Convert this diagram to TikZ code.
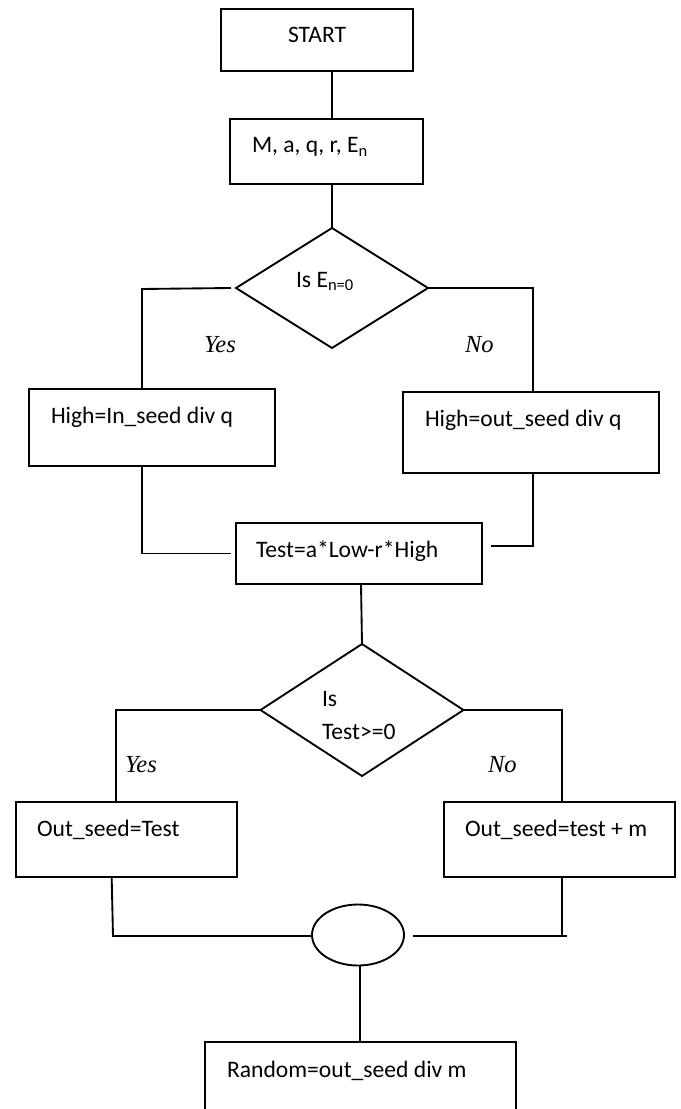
\documentclass[tikz,border=0pt]{standalone}
\usepackage{fontspec}
\setmainfont{Carlito}
\newfontfamily\labelfont{Liberation Serif}
\usetikzlibrary{shapes.geometric}

\tikzset{
  procbox/.style 2 args={draw, rectangle, inner sep=0pt, outer sep=0pt,
    minimum width=#1*0.75pt, minimum height=#2*0.75pt},
  decision/.style 2 args={draw, diamond, inner sep=0pt, outer sep=0pt,
    minimum width=#1*0.75pt, minimum height=#2*0.75pt},
  joint/.style 2 args={draw, ellipse, inner sep=0pt, outer sep=0pt,
    minimum width=#1*0.75pt, minimum height=#2*0.75pt},
  txt/.style={anchor=base west, inner sep=0pt, outer sep=0pt,
    font=\fontsize{17.7}{21}\selectfont},
  branch/.style={anchor=base west, inner sep=0pt, outer sep=0pt,
    font=\labelfont\itshape\fontsize{18.4}{22}\selectfont},
  link/.style={draw}
}

\begin{document}
\begin{tikzpicture}[x=0.75pt, y=-0.75pt, line width=1.4pt]
  \useasboundingbox (0,0) rectangle (681,1109);
  \clip (0,0) rectangle (681,1109);

  % process boxes
  \node[procbox={192}{62}]  (start) at (317,40)     {};
  \node[procbox={193}{65}]  (inp)   at (326.5,151.5) {};
  \node[procbox={246}{77}]  (hin)   at (152,427.5)  {};
  \node[procbox={256}{81}]  (hout)  at (531,432.5)  {};
  \node[procbox={246}{61}]  (test)  at (359,553.5)  {};
  \node[procbox={221}{75}]  (oyes)  at (126.5,839.5) {};
  \node[procbox={231}{75}]  (ono)   at (559.5,839.5) {};
  \node[procbox={311}{83}]  (rand)  at (360.5,1083.5) {};

  % decisions and the joining ellipse
  \node[decision={192}{120}] (dia1) at (332,288) {};
  \node[decision={203}{132}] (dia2) at (362,710) {};
  \node[joint={92}{61}]      (join) at (358,935) {};

  % texts
  \node[txt] (tstart) at (288,43)  {START};
  \node[txt] (tinp)   at (252,153) {M, a, q, r, E\textsubscript{n}};
  \node[txt] (tdia1)  at (296,287) {Is E\textsubscript{n=0}};
  \node[txt] (thin)   at (51,423)  {High=In\_seed div q};
  \node[txt] (thout)  at (425,426) {High=out\_seed div q};
  \node[txt] (ttest)  at (256,557) {Test=a*Low-r*High};
  \node[txt] (tis)    at (322,706) {Is};
  \node[txt] (tcond)  at (322,739) {Test>=0};
  \node[txt] (toyes)  at (37,836)  {Out\_seed=Test};
  \node[txt] (tono)   at (465,836) {Out\_seed=test + m};
  \node[txt] (trand)  at (227,1077) {Random=out\_seed div m};

  \node[branch] (yes1) at (204,352) {Yes};
  \node[branch] (no1)  at (465,352) {No};
  \node[branch] (yes2) at (125,772) {Yes};
  \node[branch] (no2)  at (488,772) {No};

  % elbow points of the connectors
  \coordinate (c1) at (142,289);
  \coordinate (c2) at (533,288);
  \coordinate (c3) at (116,710);
  \coordinate (c4) at (562,710);
  \coordinate (c5) at (113,936);
  \coordinate (c6) at (567,936);
  \coordinate (c7) at (533,546);

  % connectors
  \draw[link] (start.south -| dia1.north) -- (inp.north -| dia1.north);
  \draw[link] (inp.south -| dia1.north) -- (dia1.north);

  \draw[link] ([xshift=-3.75pt]dia1.west) -- (c1) -- (c1 |- hin.north);
  \draw[link] (dia1.east) -- (c2) -- (c2 |- hout.north);

  \draw[link] (hin.south -| c1) |- ([xshift=-3.75pt]test.west);
  \draw[link] (hout.south -| c7) -- (c7) -- ([xshift=6.75pt]c7 -| test.east);

  \draw[link] ([xshift=1.5pt]test.south) -- (dia2.north);

  \draw[link] (dia2.west) -- (c3) -- (c3 |- oyes.north);
  \draw[link] (dia2.east) -- (c4) -- (c4 |- ono.north);

  \draw[link] ([xshift=-1pt]oyes.south -| c5) -- (c5) -- (c5 -| join.west);
  \draw[link] (ono.south -| c4) -- (c4 |- c6);
  \draw[link] (c6) -- ([xshift=6.75pt]c6 -| join.east);

  \draw[link] ([xshift=1.5pt]join.south) -- ([xshift=1.5pt]join.south |- rand.north);
\end{tikzpicture}
\end{document}
